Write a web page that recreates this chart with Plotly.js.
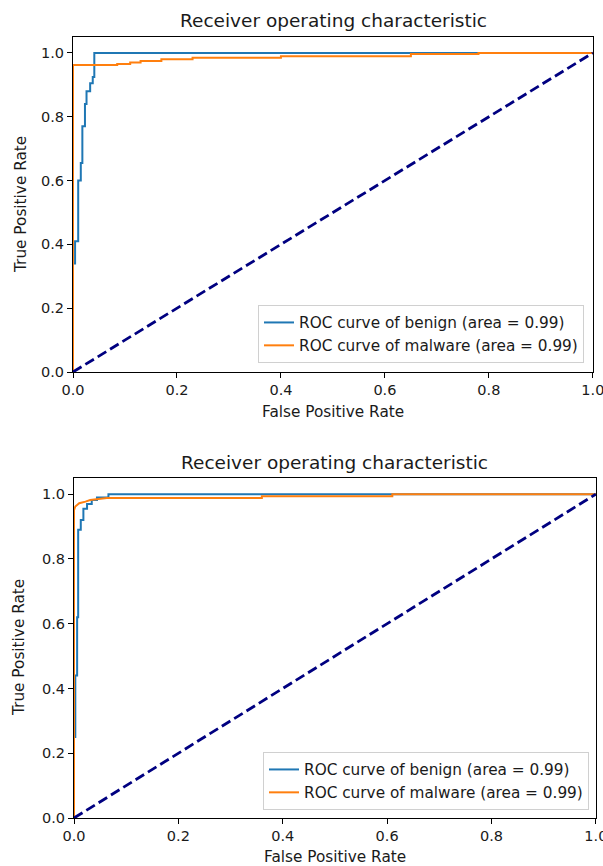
<!DOCTYPE html>
<html>
<head>
<meta charset="utf-8">
<script src="https://cdn.plot.ly/plotly-3.0.1.min.js"></script>
<style>html,body{margin:0;padding:0;background:#fff;}#chart{width:603px;height:866px;}</style>
</head>
<body>
<div id="chart"></div>
<script>
// ---- Data ----
const titleText = "Receiver operating characteristic";
const xAxisLabel = "False Positive Rate";
const yAxisLabel = "True Positive Rate";
const benignName = "ROC curve of benign (area = 0.99)";
const malwareName = "ROC curve of malware (area = 0.99)";
const tickVals = [0, 0.2, 0.4, 0.6, 0.8, 1.0];
const tickText = ["0.0", "0.2", "0.4", "0.6", "0.8", "1.0"];

// Top chart
const topBenignFpr = [0, 0, 0.004, 0.004, 0.010, 0.010, 0.015, 0.015, 0.018, 0.018, 0.023, 0.023, 0.026, 0.026, 0.033, 0.033, 0.038, 0.038, 0.041, 0.041, 1.0];
const topBenignTpr = [0, 0.34, 0.34, 0.41, 0.41, 0.60, 0.60, 0.655, 0.655, 0.77, 0.77, 0.84, 0.84, 0.88, 0.88, 0.905, 0.905, 0.925, 0.925, 1.0, 1.0];
const topMalwareFpr = [0, 0, 0.085, 0.085, 0.11, 0.11, 0.13, 0.13, 0.17, 0.17, 0.23, 0.23, 0.40, 0.40, 0.65, 0.65, 0.78, 0.78, 1.0];
const topMalwareTpr = [0, 0.962, 0.962, 0.965, 0.965, 0.970, 0.970, 0.975, 0.975, 0.980, 0.980, 0.985, 0.985, 0.990, 0.990, 0.997, 0.997, 1.0, 1.0];

// Bottom chart
const botBenignFpr = [0, 0, 0.0025, 0.0025, 0.006, 0.006, 0.008, 0.008, 0.013, 0.013, 0.018, 0.018, 0.025, 0.025, 0.034, 0.034, 0.044, 0.044, 0.066, 0.066, 1.0];
const botBenignTpr = [0, 0.25, 0.25, 0.44, 0.44, 0.62, 0.62, 0.89, 0.89, 0.92, 0.92, 0.955, 0.955, 0.97, 0.97, 0.982, 0.982, 0.99, 0.99, 1.0, 1.0];
const botMalwareFpr = [0, 0, 0.0025, 0.010, 0.022, 0.031, 0.063, 0.36, 0.36, 0.61, 0.61, 1.0];
const botMalwareTpr = [0, 0.951, 0.962, 0.972, 0.977, 0.982, 0.988, 0.988, 0.994, 0.994, 1.0, 1.0];

const diagX = [0, 1];
const diagY = [0, 1];

// ---- Layout helpers ----
const W = 603, H = 866;
const px = v => v / W;
const py = v => (H - v) / H;
const fontFam = "DejaVu Sans, sans-serif";
const blue = "#1f77b4", orange = "#ff7f0e";
const textCol = "#1a1a1a";

function line(x, y, color, name, xa, ya, leg, show) {
  return {x: x, y: y, type: "scatter", mode: "lines", name: name,
    line: {color: color, width: 2}, xaxis: xa, yaxis: ya, legend: leg, showlegend: show, hoverinfo: "skip"};
}
function diag(xa, ya) {
  return {x: diagX, y: diagY, type: "scatter", mode: "lines", showlegend: false,
    line: {color: "#000080", width: 2.8, dash: "10px,4.5px"}, xaxis: xa, yaxis: ya, hoverinfo: "skip"};
}

const traces = [
  line(topBenignFpr, topBenignTpr, blue, benignName, "x", "y", "legend", true),
  line(topMalwareFpr, topMalwareTpr, orange, malwareName, "x", "y", "legend", true),
  diag("x", "y"),
  line(botBenignFpr, botBenignTpr, blue, benignName, "x2", "y2", "legend2", true),
  line(botMalwareFpr, botMalwareTpr, orange, malwareName, "x2", "y2", "legend2", true),
  diag("x2", "y2")
];

function xax(domain, anchor) {
  return {domain: domain, anchor: anchor, range: [0, 1.0003], tickvals: tickVals, ticktext: tickText,
    ticks: "outside", ticklen: 5, tickwidth: 1, tickcolor: "#000", showline: true, mirror: true,
    linecolor: "#000", linewidth: 1, showgrid: false, zeroline: false, layer: "above traces",
    ticklabeloverflow: "allow",
    tickfont: {family: fontFam, size: 14.5, color: textCol}, fixedrange: true};
}
function yax(domain, anchor) {
  return {domain: domain, anchor: anchor, range: [0, 1.05], tickvals: tickVals, ticktext: tickText,
    ticks: "outside", ticklen: 5, tickwidth: 1, tickcolor: "#000", showline: true, mirror: true,
    linecolor: "#000", linewidth: 1, showgrid: false, zeroline: false, layer: "above traces",
    tickfont: {family: fontFam, size: 14.5, color: textCol}, fixedrange: true};
}

function ann(text, x, y, size, angle) {
  return {text: text, xref: "paper", yref: "paper", x: px(x), y: py(y), xanchor: "center", yanchor: "middle",
    showarrow: false, textangle: angle || 0, font: {family: fontFam, size: size, color: textCol}};
}

const legendBase = {bgcolor: "rgba(255,255,255,0.8)", bordercolor: "#d0d0d0", borderwidth: 1,
  font: {family: fontFam, size: 15.3, color: textCol}, xanchor: "right", yanchor: "bottom",
  tracegroupgap: 0, itemwidth: 30};

const layout = {
  width: W, height: H, margin: {l: 0, r: 0, t: 0, b: 0},
  paper_bgcolor: "#fff", plot_bgcolor: "#fff", showlegend: true,
  xaxis: xax([px(73), px(593)], "y"),
  yaxis: yax([py(372), py(37)], "x"),
  xaxis2: xax([px(74), px(596)], "y2"),
  yaxis2: yax([py(818), py(478)], "x2"),
  legend: Object.assign({}, legendBase, {x: px(584), y: py(363)}),
  legend2: Object.assign({}, legendBase, {x: px(589), y: py(810)}),
  annotations: [
    ann(titleText, 333, 20, 18.5),
    ann(titleText, 334, 462, 18.5),
    ann(xAxisLabel, 333, 412, 15.3),
    ann(xAxisLabel, 335, 857, 15.3),
    ann(yAxisLabel, 21, 205, 15.3, -90),
    ann(yAxisLabel, 19, 648, 15.3, -90)
  ]
};

Plotly.newPlot("chart", traces, layout, {staticPlot: true, displayModeBar: false});
</script>
</body>
</html>
